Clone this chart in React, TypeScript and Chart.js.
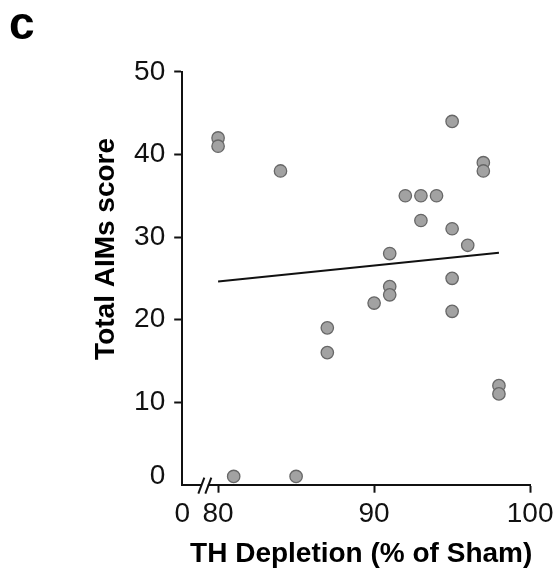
import { useEffect, useRef } from 'react';
import { Chart, registerables } from 'chart.js';

Chart.register(...registerables);

// ---- data ----
const depletion = [80, 80, 84, 81, 85, 87, 87, 90, 91, 91, 91, 92, 93, 93, 94, 95, 95, 95, 95, 96, 97, 97, 98, 98];
const aimsScore = [42, 41, 38, 1, 1, 19, 16, 22, 28, 24, 23, 35, 35, 32, 35, 44, 31, 25, 21, 29, 39, 38, 12, 11];

const xTickValues = [80, 90, 100];
const xOriginValue = 77.7; // axis origin drawn after the break
const xOriginLabel = '0';
const xMax = 100;
const xBreakValue = 79.15;
const yTickStep = 10;
const yMin = 0;
const yMax = 50;

const xTitle = 'TH Depletion (% of Sham)';
const yTitle = 'Total AIMs score';
const panelLabel = 'c';

const FONT = '"Liberation Sans", Arial, Helvetica, sans-serif';

function linearFit(xs: number[], ys: number[]) {
  const n = xs.length;
  const mx = xs.reduce((a, b) => a + b, 0) / n;
  const my = ys.reduce((a, b) => a + b, 0) / n;
  let sxy = 0;
  let sxx = 0;
  for (let i = 0; i < n; i++) {
    sxy += (xs[i] - mx) * (ys[i] - my);
    sxx += (xs[i] - mx) * (xs[i] - mx);
  }
  const slope = sxy / sxx;
  const intercept = my - slope * mx;
  return { slope, intercept };
}

const overlay = {
  id: 'overlay',
  afterDraw(chart: any) {
    const { ctx, chartArea, scales } = chart;
    const xs = scales.x;
    ctx.save();
    ctx.fillStyle = '#000';
    // panel label
    ctx.font = `bold 46px ${FONT}`;
    ctx.textAlign = 'left';
    ctx.textBaseline = 'alphabetic';
    ctx.fillText(panelLabel, 9, 39);

    // x axis title
    ctx.font = `bold 28px ${FONT}`;
    ctx.textAlign = 'center';
    ctx.fillText(xTitle, (chartArea.left + chartArea.right) / 2 + 5, chartArea.bottom + 77.5);

    // y axis title (rotated)
    ctx.save();
    ctx.translate(chartArea.left - 68.5, chartArea.top + 177);
    ctx.rotate(-Math.PI / 2);
    ctx.font = `bold 28px ${FONT}`;
    ctx.textAlign = 'center';
    ctx.textBaseline = 'alphabetic';
    ctx.fillText(yTitle, 0, 0);
    ctx.restore();

    // axis break "//"
    const xb = xs.getPixelForValue(xBreakValue);
    const yb = chartArea.bottom;
    ctx.fillStyle = '#fff';
    ctx.fillRect(xb - 3, yb - 2, 6, 4);
    ctx.strokeStyle = '#111';
    ctx.lineWidth = 2;
    [-3.5, 3.5].forEach((off) => {
      ctx.beginPath();
      ctx.moveTo(xb + off - 3, yb + 9);
      ctx.lineTo(xb + off + 3, yb - 7);
      ctx.stroke();
    });
    ctx.restore();
  },
};

export default function App() {
  const canvasRef = useRef<HTMLCanvasElement | null>(null);

  useEffect(() => {
    if (!canvasRef.current) return;
    const fit = linearFit(depletion, aimsScore);
    const xLo = Math.min(...depletion);
    const xHi = Math.max(...depletion);
    const points = depletion.map((x, i) => ({ x, y: aimsScore[i] }));
    const fitLine = [
      { x: xLo, y: fit.intercept + fit.slope * xLo },
      { x: xHi, y: fit.intercept + fit.slope * xHi },
    ];

    const chart = new Chart(canvasRef.current, {
      type: 'scatter',
      data: {
        datasets: [
          {
            type: 'scatter',
            data: points,
            order: 0,
            pointRadius: 6.2,
            pointBorderWidth: 1.3,
            backgroundColor: '#a2a2a2',
            borderColor: '#676767',
            clip: false,
          } as any,
          {
            type: 'line',
            data: fitLine,
            order: 1,
            showLine: true,
            pointRadius: 0,
            borderColor: '#111',
            borderWidth: 2,
            fill: false,
            clip: false,
          } as any,
        ],
      },
      options: {
        animation: false,
        responsive: false,
        events: [],
        layout: { padding: { left: 0, top: 71.9, right: 23.5, bottom: 0 } },
        plugins: {
          legend: { display: false },
          tooltip: { enabled: false },
        },
        scales: {
          x: {
            type: 'linear',
            min: xOriginValue,
            max: xMax,
            afterBuildTicks: (scale: any) => {
              scale.ticks = [xOriginValue, ...xTickValues].map((v) => ({ value: v }));
            },
            afterFit: (scale: any) => {
              scale.height = 85.3;
            },
            grid: {
              drawOnChartArea: false,
              drawTicks: true,
              tickLength: 8,
              tickWidth: 2,
              tickColor: (ctx: any) => (ctx.tick && ctx.tick.value === xOriginValue ? 'rgba(0,0,0,0)' : '#111'),
            },
            border: { display: true, color: '#111', width: 2 },
            ticks: {
              autoSkip: false,
              maxRotation: 0,
              padding: 4.5,
              color: '#111',
              font: { family: FONT, size: 28 },
              callback: (v: any) => (v === xOriginValue ? xOriginLabel : String(v)),
            },
            title: { display: false },
          },
          y: {
            type: 'linear',
            min: yMin,
            max: yMax,
            afterFit: (scale: any) => {
              scale.width = 182.2;
            },
            grid: {
              drawOnChartArea: false,
              drawTicks: true,
              tickLength: 8,
              tickWidth: 2,
              tickColor: (ctx: any) => (ctx.tick && ctx.tick.value === yMin ? 'rgba(0,0,0,0)' : '#111'),
            },
            border: { display: true, color: '#111', width: 2 },
            ticks: {
              stepSize: yTickStep,
              padding: 9,
              color: '#111',
              font: (ctx: any) =>
                ctx.tick && ctx.tick.value === yMin
                  ? { family: FONT, size: 28, lineHeight: 0.57 }
                  : { family: FONT, size: 28 },
              callback: (v: any) => (v === yMin ? [String(v), ''] : String(v)),
            },
          },
        },
      },
      plugins: [overlay],
    } as any);

    return () => chart.destroy();
  }, []);

  return (
    <div style={{ position: 'absolute', left: 0, top: 0, width: 558, height: 570, background: '#fff' }}>
      <canvas ref={canvasRef} width={558} height={570} style={{ display: 'block' }} />
    </div>
  );
}
